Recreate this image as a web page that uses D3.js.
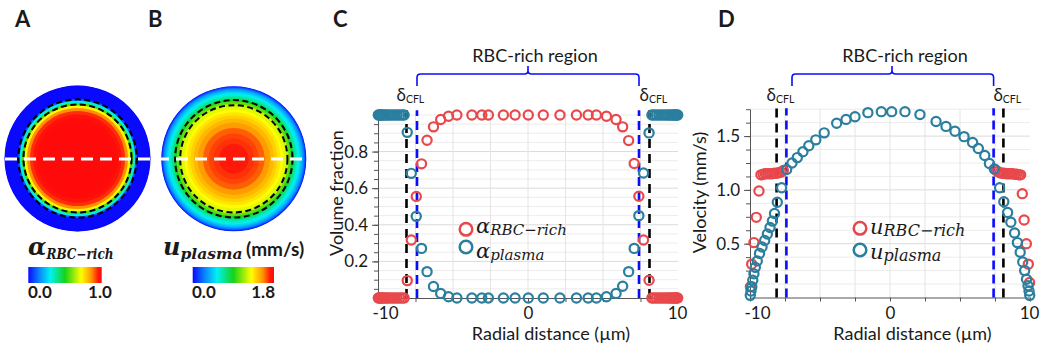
<!DOCTYPE html>
<html><head><meta charset="utf-8">
<script src="https://cdn.jsdelivr.net/npm/d3@7"></script>
<style>
html,body{margin:0;padding:0;background:#fff;}
svg{display:block;}
text{font-family:Lato,"Open Sans",sans-serif;fill:#1a1a1a;}
.math{font-family:"DejaVu Serif","Liberation Serif",serif;font-style:italic;}
</style></head><body>
<svg id="fig" width="1043" height="349"></svg>
<script>
// ---- volume fraction profiles across the tube (panel C) ----
const fracRadial = [-9.98,-9.92,-9.85,-9.77,-9.68,-9.58,-9.46,-9.33,-9.19,-9.04,-8.88,-8.72,-8.56,-8.4,-8.26,
  -8.05,-7.78,-7.45,-7.1,-6.73,-6.3,-5.82,-5.3,
  -4.74,-3.74,-3.08,-2.64,-1.64,-0.86,0.02,1.02,2.13,3.23,4.01,4.56,
  5.23,5.87,6.31,6.71,7.08,7.39,7.7,8.07,
  8.26,8.4,8.56,8.72,8.88,9.04,9.19,9.33,9.46,9.58,9.68,9.77,9.85,9.92,9.98];
const alphaRBC = [0,0,0,0,0,0,0,0,0,0,0,0,0,0,0,
  0.095,0.317,0.555,0.733,0.862,0.935,0.975,0.993,
  1,1,1,1,1,1,1,1,1,1,1,1,
  0.993,0.975,0.935,0.86,0.735,0.556,0.317,0.097,
  0,0,0,0,0,0,0,0,0,0,0,0,0,0,0];
const alphaPlasma = [1,1,1,1,1,1,1,1,1,1,1,1,1,1,1,
  0.905,0.681,0.446,0.271,0.144,0.063,0.025,0.007,
  0,0,0,0,0,0,0,0,0,0,0,0,
  0.007,0.025,0.064,0.144,0.271,0.45,0.683,0.902,
  1,1,1,1,1,1,1,1,1,1,1,1,1,1,1];

// ---- velocity profiles (panel D), mm/s ----
const velRadialPlasma = [-9.98,-9.93,-9.87,-9.8,-9.72,-9.62,-9.48,-9.32,-9.14,-8.95,
  -8.76,-8.57,-8.4,-8.25,-8.05,-7.74,-7.38,-7.0,-6.62,-6.22,
  -5.8,-5.3,-4.7,-3.81,-3.14,-2.5,-1.58,-0.62,0.12,1.07,
  2.14,3.29,4.0,4.64,5.29,5.9,6.31,6.77,7.1,7.45,
  7.83,8.13,8.4,8.63,8.9,9.1,9.3,9.48,9.62,9.75,
  9.86,9.93,9.98];
const uPlasma = [0.02,0.06,0.10,0.16,0.22,0.28,0.34,0.41,0.47,0.53,
  0.59,0.65,0.71,0.78,0.885,1.02,1.19,1.25,1.30,1.355,
  1.41,1.465,1.53,1.62,1.655,1.68,1.718,1.727,1.727,1.727,
  1.70,1.635,1.59,1.545,1.495,1.44,1.385,1.32,1.245,1.195,
  1.02,0.89,0.79,0.70,0.60,0.51,0.42,0.33,0.25,0.17,
  0.11,0.06,0.02];
const velRadialRBC = [-9.97,-9.88,-9.72,-9.55,-9.36,-9.22,-9.06,-8.9,-8.74,-8.58,-8.42,-8.26,-8.1,-7.94,-7.78,-7.62,
  7.55,7.7,7.85,8.0,8.15,8.3,8.45,8.6,8.75,8.9,9.05,9.2,9.33,9.45,9.58,9.74,9.88,9.97];
const uRBC = [0.10,0.31,0.51,0.745,0.99,1.14,1.145,1.15,1.15,1.15,1.15,1.155,1.155,1.16,1.165,1.18,
  1.185,1.17,1.16,1.155,1.155,1.15,1.15,1.15,1.15,1.145,1.145,1.14,1.14,0.965,0.72,0.50,0.31,0.14];

// ---- layer boundaries, ticks, colour bar ranges ----
const cflEdge = [-8.1, 8.1];      // cell-free layer edge
const rbcEdge = [-7.4, 7.4];      // RBC-rich region edge
const tubeRadius = 10;
const xTickValues = [-10,-7.5,-5,-2.5,0,2.5,5,7.5,10];
const xTickLabels = ["-10","","","","0","","","","10"];
const fracTicks = [0.2,0.4,0.6,0.8];
const velTicks = [0.5,1.0,1.5];
const alphaRange = [0, 1.0];
const uRange = [0, 1.8];
const jetStops = [0, 0.15, 0.3, 0.5, 0.72, 0.86, 0.95, 1];
const jetColors = ["#0a0aff","#0a86ff","#00f2f2","#16d21a","#ffff00","#ff9400","#ff1a0a","#ff0a0a"];

const RED = "#e8484c", TEAL = "#2a7f9e", BLUE = "#0b0bff";
const svg = d3.select("#fig");
const jet = d3.scaleLinear().domain(jetStops).range(jetColors).clamp(true);

// ---------- panels A and B: cross-section maps ----------
function disc(cx, cy, R, radial, values, range) {
  const g = svg.append("g");
  const rs = d3.scaleLinear().domain([0, tubeRadius]).range([0, R]);
  const norm = d3.scaleLinear().domain(range).range([0, 1]);
  const pts = radial.map((r, i) => ({r: -r, v: values[i]})).filter(d => d.r > 0).sort((a, b) => b.r - a.r);
  pts.forEach((d, i) => {
    const outer = i === 0 ? tubeRadius : (pts[i - 1].r + d.r) / 2;
    g.append("circle").attr("cx", cx).attr("cy", cy).attr("r", rs(outer)).attr("fill", jet(norm(d.v)));
  });
  [cflEdge[1], rbcEdge[1]].forEach(r => {
    g.append("circle").attr("cx", cx).attr("cy", cy).attr("r", rs(r))
      .attr("fill", "none").attr("stroke", "#000").attr("stroke-width", 2).attr("stroke-dasharray", "6,3.5");
  });
}
disc(77.5, 158.5, 73, fracRadial, alphaRBC, alphaRange);
disc(233.8, 158.8, 72.5, velRadialPlasma, uPlasma, uRange);
svg.append("line").attr("x1", 5).attr("x2", 306).attr("y1", 159).attr("y2", 159)
  .attr("stroke", "#fff").attr("stroke-width", 3).attr("stroke-dasharray", "12,7");

// colour bars
const defs = svg.append("defs");
const grad = defs.append("linearGradient").attr("id", "jetbar");
d3.range(0, 1.0001, 0.025).forEach(t => grad.append("stop").attr("offset", t).attr("stop-color", jet(t)));
function colorBar(x, w, lo, hi, loX, hiX, hiAnchor) {
  svg.append("rect").attr("x", x).attr("y", 267).attr("width", w).attr("height", 16).attr("fill", "url(#jetbar)");
  svg.append("text").attr("x", loX).attr("y", 297.5).attr("font-weight", 700).attr("font-size", 17).text(lo);
  svg.append("text").attr("x", hiX).attr("y", 297.5).attr("font-weight", 700).attr("font-size", 17)
    .attr("text-anchor", hiAnchor).text(hi);
}
colorBar(28.3, 73.4, alphaRange[0].toFixed(1), alphaRange[1].toFixed(1), 28, 100, "middle");
colorBar(192.7, 81.3, uRange[0].toFixed(1), uRange[1].toFixed(1), 192, 275, "end");

// math labels under the maps
function mathLabel(x, y, main, sub, size, subSize, subLen) {
  const t = svg.append("text").attr("class", "math").attr("x", x).attr("y", y).attr("font-weight", 700);
  t.append("tspan").attr("font-size", size).text(main);
  t.append("tspan").attr("font-size", subSize).attr("dy", 4).text(sub)
    .attr("textLength", subLen).attr("lengthAdjust", "spacingAndGlyphs");
}
mathLabel(28, 255, "α", "RBC−rich", 24, 14, 67);
mathLabel(163, 255, "u", "plasma", 24, 14, 62);
svg.append("text").attr("x", 246).attr("y", 256).attr("font-weight", 700).attr("font-size", 19).text("(mm/s)");

// ---------- line-profile panels ----------
function profilePanel(o) {
  const g = svg.append("g");
  const x = d3.scaleLinear().domain([-10, 10]).range(o.xr);
  const y = d3.scaleLinear().domain(o.yd).range(o.yr);
  // grid
  g.append("g").selectAll("line").data(o.yMinor).join("line")
    .attr("x1", o.xr[0]).attr("x2", o.xr[1]).attr("y1", d => y(d)).attr("y2", d => y(d))
    .attr("stroke", d => o.yTicks.some(t => Math.abs(t - d) < 1e-6) ? "#dadada" : "#ececec").attr("stroke-width", 1);
  g.append("g").selectAll("line").data(xTickValues.slice(1, -1)).join("line")
    .attr("x1", d => x(d)).attr("x2", d => x(d)).attr("y1", o.yr[0]).attr("y2", o.yr[1])
    .attr("stroke", "#e4e4e4").attr("stroke-width", 1);
  // axes
  const ax = g.append("g").attr("transform", `translate(0,${o.yr[0]})`)
    .call(d3.axisBottom(x).tickValues(xTickValues).tickSize(4).tickSizeOuter(0).tickPadding(5)
      .tickFormat((d, i) => xTickLabels[i]));
  ax.selectAll("text").attr("font-size", 17).attr("fill", "#1a1a1a").attr("font-family", "Lato");
  ax.selectAll("text").filter(d => d === -10).attr("dx", 7);
  ax.selectAll("text").filter(d => d === 10).attr("dx", -1);
  g.append("g").attr("transform", `translate(${o.xr[0]},0)`)
    .call(d3.axisLeft(y).tickValues(o.yMinor).tickSize(4).tickSizeOuter(0).tickFormat(""));
  const ay = g.append("g").attr("transform", `translate(${o.xr[0]},0)`)
    .call(d3.axisLeft(y).tickValues(o.yTicks).tickSize(6).tickSizeOuter(0).tickPadding(4).tickFormat(d3.format(".1f")));
  ay.selectAll("text").attr("font-size", 17).attr("fill", "#1a1a1a").attr("font-family", "Lato");
  g.selectAll(".domain,.tick line").attr("stroke", "#555");
  // boundary lines
  [[cflEdge, "#000", "9,6"], [rbcEdge, BLUE, "9,5"]].forEach(([edges, c, dash]) => {
    edges.forEach(e => g.append("line").attr("x1", x(e)).attr("x2", x(e)).attr("y1", o.yr[0]).attr("y2", o.yr[1] - 1)
      .attr("stroke", c).attr("stroke-width", 2.6).attr("stroke-dasharray", dash));
  });
  // series
  o.series.forEach(s => {
    g.append("g").selectAll("circle").data(s.xs.map((d, i) => [d, s.ys[i]])).join("circle")
      .attr("cx", d => x(d[0])).attr("cy", d => y(d[1])).attr("r", 4.6)
      .attr("fill", "none").attr("stroke", s.color).attr("stroke-width", 2.2);
  });
  // RBC-rich brace and labels
  const bx1 = x(o.brace[0]), bx2 = x(o.brace[1]), bm = x(0) + o.braceShift;
  g.append("path").attr("fill", "none").attr("stroke", BLUE).attr("stroke-width", 1.6)
    .attr("d", `M${bx1},86 V77.5 Q${bx1},74 ${bx1 + 3.5},74 H${bm - 3.5} Q${bm},74 ${bm},70.5 V66
                M${bm},70.5 Q${bm},74 ${bm + 3.5},74 H${bx2 - 3.5} Q${bx2},74 ${bx2},77.5 V86`);
  g.append("text").attr("x", o.regionX).attr("y", 62).attr("text-anchor", "middle").attr("font-size", 18)
    .text("RBC-rich region");
  cflEdge.forEach(e => {
    const t = g.append("text").attr("x", x(e) - 10).attr("y", 101).attr("font-family", "Open Sans");
    t.append("tspan").attr("font-size", 17).text("δ");
    t.append("tspan").attr("font-size", 10.5).attr("dy", 2).text("CFL");
  });
  // axis titles
  g.append("text").attr("x", o.xTitleX).attr("y", 340).attr("text-anchor", "middle").attr("font-size", 18)
    .text("Radial distance (µm)");
  g.append("text").attr("transform", `translate(${o.yTitleX},${o.yTitleY}) rotate(-90)`)
    .attr("text-anchor", "middle").attr("font-size", 18).text(o.yTitle);
  // legend: marker column and label column
  o.legend.forEach((l, i) => {
    g.append("circle").attr("cx", o.legendX).attr("cy", o.markerY[i]).attr("r", 6.3)
      .attr("fill", "none").attr("stroke", l.color).attr("stroke-width", 2.5);
    const t = g.append("text").attr("class", "math").attr("x", o.legendX + 10).attr("y", o.labelY[i]);
    t.append("tspan").attr("font-size", o.mainSize).text(l.main);
    t.append("tspan").attr("font-size", o.subSize).attr("dy", 2).text(l.sub);
  });
  // panel letter
  svg.append("text").attr("x", o.letterX).attr("y", 27).attr("font-family", "Liberation Sans")
    .attr("font-weight", 700).attr("font-size", 22).text(o.letter);
}

profilePanel({
  letter: "C", letterX: 333,
  xr: [378, 678], yd: [0, 1.02], yr: [298, 111.3],
  yTicks: fracTicks, yMinor: d3.range(1, 21).map(i => i * 0.05),
  brace: rbcEdge, braceShift: 0, regionX: 535,
  xTitleX: 551, yTitleX: 343, yTitleY: 193, yTitle: "Volume fraction",
  series: [{xs: fracRadial, ys: alphaRBC, color: RED}, {xs: fracRadial, ys: alphaPlasma, color: TEAL}],
  legend: [{main: "α", sub: "RBC−rich", color: RED}, {main: "α", sub: "plasma", color: TEAL}],
  legendX: 466, markerY: [229.3, 247], labelY: [232.5, 258], mainSize: 21, subSize: 15
});
profilePanel({
  letter: "D", letterX: 718,
  xr: [750, 1030], yd: [0, 1.75], yr: [297.5, 109.2],
  yTicks: velTicks, yMinor: d3.range(1, 15).map(i => i * 0.125),
  brace: [-7.0, 7.4], braceShift: 2, regionX: 905,
  xTitleX: 912.5, yTitleX: 706, yTitleY: 192.5, yTitle: "Velocity (mm/s)",
  series: [{xs: velRadialRBC, ys: uRBC, color: RED}, {xs: velRadialPlasma, ys: uPlasma, color: TEAL}],
  legend: [{main: "u", sub: "RBC−rich", color: RED}, {main: "u", sub: "plasma", color: TEAL}],
  legendX: 860, markerY: [228.3, 250], labelY: [233.5, 259], mainSize: 21, subSize: 16
});

// panel letters for the maps
[["A", 15], ["B", 148]].forEach(([l, x]) => svg.append("text").attr("x", x).attr("y", 27)
  .attr("font-family", "Liberation Sans").attr("font-weight", 700).attr("font-size", 22).text(l));
</script>
</body></html>
